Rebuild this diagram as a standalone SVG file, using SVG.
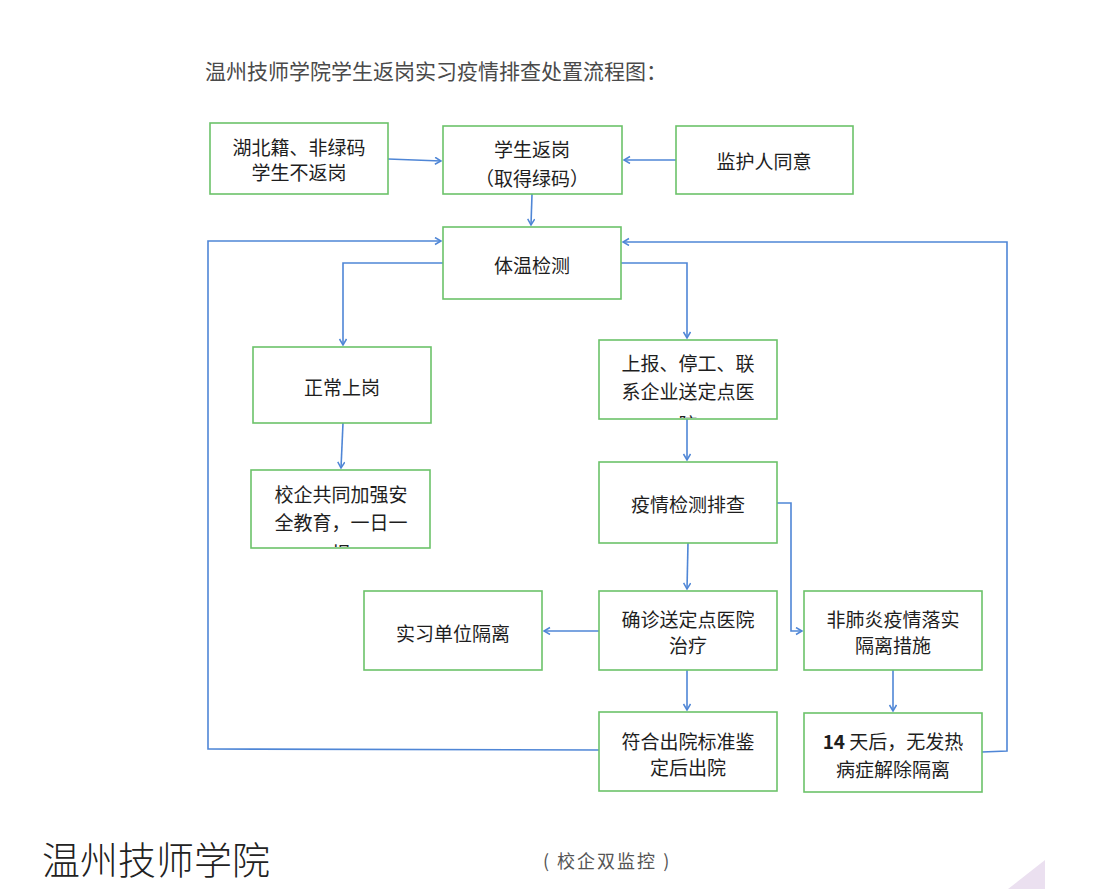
<svg xmlns="http://www.w3.org/2000/svg" width="1100" height="889" viewBox="0 0 1100 889">
<style>
.box{fill:#ffffff;stroke:#6cc26a;stroke-width:1.6}
.t{font-family:"Noto Sans CJK SC","Liberation Sans",sans-serif;font-size:19px;fill:#1e1e1e;text-anchor:middle;dominant-baseline:central}
.c{fill:none;stroke:#4f86d6;stroke-width:1.6}
</style>
<defs>
<marker id="a" markerWidth="10" markerHeight="10" refX="7" refY="4" orient="auto" markerUnits="userSpaceOnUse">
<path d="M1,0.5 L7,4 L1,7.5" fill="none" stroke="#4f86d6" stroke-width="1.5"/>
</marker>
<clipPath id="c6"><rect x="600" y="341" width="176" height="77"/></clipPath>
<clipPath id="c7"><rect x="252" y="471" width="177" height="76"/></clipPath>
</defs>
<rect width="1100" height="889" fill="#ffffff"/>
<text x="205" y="70" style="font-family:'Noto Sans CJK SC','Liberation Sans',sans-serif;font-size:21px;fill:#4a4a4a;dominant-baseline:central">温州技师学院学生返岗实习疫情排查处置流程图：</text>

<g id="connectors">
<path class="c" d="M388,159 L441,161" marker-end="url(#a)"/>
<path class="c" d="M676,160 L624,160" marker-end="url(#a)"/>
<path class="c" d="M532,194 L531,225" marker-end="url(#a)"/>
<path class="c" d="M599,750 L208,749 L208,241 L441,241" marker-end="url(#a)"/>
<path class="c" d="M982,752 L1007,751 L1007,242 L623,242" marker-end="url(#a)"/>
<path class="c" d="M443,263 L343,263 L343,345" marker-end="url(#a)"/>
<path class="c" d="M621,263 L687,263 L687,338" marker-end="url(#a)"/>
<path class="c" d="M343,423 L341,468" marker-end="url(#a)"/>
<path class="c" d="M687,419 L687,460" marker-end="url(#a)"/>
<path class="c" d="M777,503 L791,503 L791,631 L802,631" marker-end="url(#a)"/>
<path class="c" d="M688,543 L687,589" marker-end="url(#a)"/>
<path class="c" d="M599,631 L544,631" marker-end="url(#a)"/>
<path class="c" d="M687,670 L687,710" marker-end="url(#a)"/>
<path class="c" d="M893,670 L893,711" marker-end="url(#a)"/>
</g>

<g id="n1"><rect class="box" x="210" y="123" width="178" height="71"/>
<text class="t" x="299" y="146">湖北籍、非绿码</text><text class="t" x="299" y="171">学生不返岗</text></g>
<g id="n2"><rect class="box" x="443" y="126" width="179" height="68"/>
<text class="t" x="532" y="148">学生返岗</text><text class="t" x="532" y="177">（取得绿码）</text></g>
<g id="n3"><rect class="box" x="676" y="126" width="177" height="68"/>
<text class="t" x="764" y="160">监护人同意</text></g>
<g id="n4"><rect class="box" x="443" y="227" width="178" height="72"/>
<text class="t" x="532" y="264">体温检测</text></g>
<g id="n5"><rect class="box" x="253" y="347" width="178" height="76"/>
<text class="t" x="342" y="386">正常上岗</text></g>
<g id="n6"><rect class="box" x="599" y="340" width="178" height="79"/>
<g clip-path="url(#c6)"><text class="t" x="688" y="362">上报、停工、联</text><text class="t" x="688" y="390">系企业送定点医</text><text class="t" x="688" y="423">院</text></g></g>
<g id="n7"><rect class="box" x="251" y="470" width="179" height="78"/>
<g clip-path="url(#c7)"><text class="t" x="341" y="493">校企共同加强安</text><text class="t" x="341" y="521">全教育，一日一</text><text class="t" x="341" y="552">报</text></g></g>
<g id="n8"><rect class="box" x="599" y="462" width="178" height="81"/>
<text class="t" x="688" y="503">疫情检测排查</text></g>
<g id="n9"><rect class="box" x="599" y="591" width="178" height="79"/>
<text class="t" x="688" y="618">确诊送定点医院</text><text class="t" x="688" y="644">治疗</text></g>
<g id="n10"><rect class="box" x="804" y="591" width="178" height="79"/>
<text class="t" x="893" y="618">非肺炎疫情落实</text><text class="t" x="893" y="644">隔离措施</text></g>
<g id="n11"><rect class="box" x="364" y="591" width="178" height="79"/>
<text class="t" x="453" y="632">实习单位隔离</text></g>
<g id="n12"><rect class="box" x="599" y="712" width="178" height="79"/>
<text class="t" x="688" y="740">符合出院标准鉴</text><text class="t" x="688" y="766">定后出院</text></g>
<g id="n13"><rect class="box" x="804" y="713" width="178" height="79"/>
<text class="t" x="893" y="740"><tspan font-weight="bold">14</tspan> 天后，无发热</text><text class="t" x="893" y="768">病症解除隔离</text></g>

<text x="42" y="857" style="font-family:'Noto Sans CJK SC',serif;font-size:38px;font-weight:300;fill:#222222;dominant-baseline:central">温州技师学院</text>
<text x="543" y="860" style="font-family:'Noto Sans CJK SC','Liberation Sans',sans-serif;font-size:18px;letter-spacing:2px;fill:#555555;dominant-baseline:central">( 校企双监控 )</text>
<polygon points="1008,889 1045,860 1045,889" fill="#ebe0f0"/>
</svg>
